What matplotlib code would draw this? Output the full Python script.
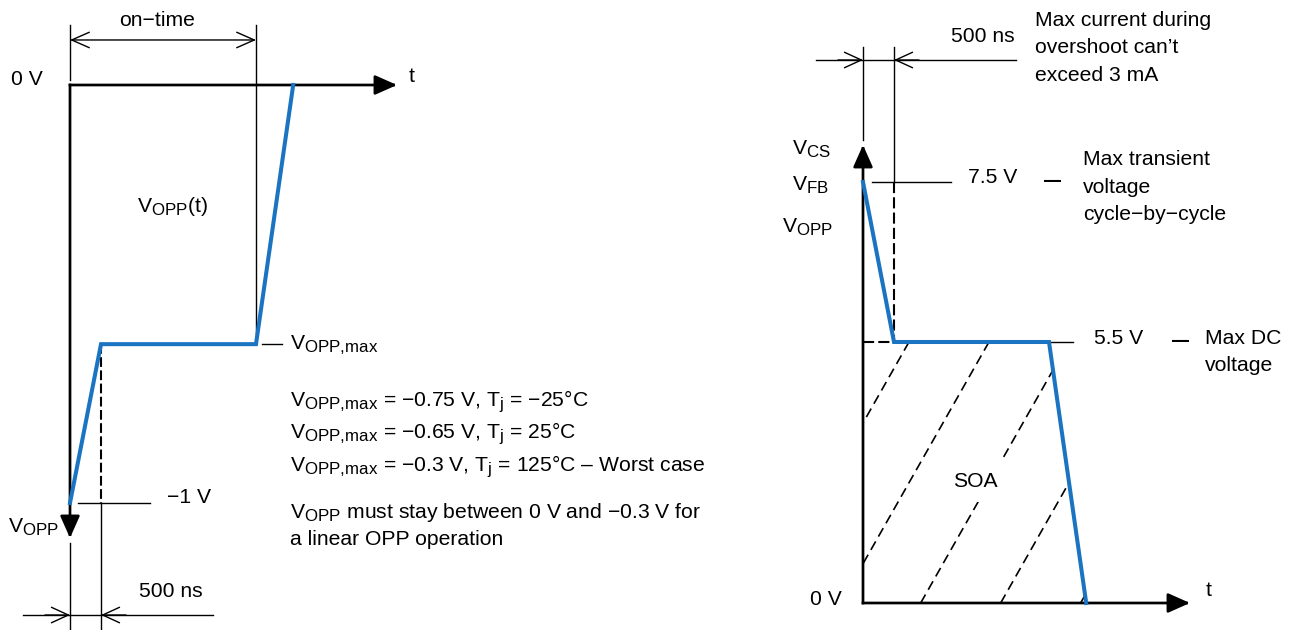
import numpy as np
import matplotlib
matplotlib.use("Agg")
import matplotlib.pyplot as plt
import matplotlib._mathtext as mathtext_mod
from matplotlib.patches import Polygon

plt.rcParams['font.family'] = 'Liberation Sans'
plt.rcParams['mathtext.fontset'] = 'custom'
plt.rcParams['mathtext.rm'] = 'Liberation Sans'
plt.rcParams['mathtext.it'] = 'Liberation Sans:italic'
plt.rcParams['mathtext.bf'] = 'Liberation Sans:bold'
plt.rcParams['lines.scale_dashes'] = False
mathtext_mod.SHRINK_FACTOR = 0.8   # subscripts in the sketch are fairly large

# --- left sketch: V_OPP going negative (time in ns, level in V) ---
opp_t = [0, 500, 3000, 3600]
opp_v = [-1.0, -0.62, -0.62, 0.0]
on_time = 3000
settle = 500
vmax_cases = ['−0.75', '−0.65', '−0.3']
tj_cases = ['−25', '25', '125']

# --- right sketch: SOA of the CS / FB / OPP pins ---
soa_t = [0, 500, 3000, 3600]
soa_v = [7.5, 5.5, 5.5, 0.0]
v_dc = 5.5
v_tr = 7.5

blue = '#1a74c2'
fs = 15.2
k = 31 / 500.0   # px per ns

fig = plt.figure(figsize=(12.89, 6.30), dpi=100)

axl = fig.add_axes([0, 0, 1, 1], label='left')
axl.set_xlim(-70 / k, (1289 - 70) / k)
axl.set_ylim((85 - 630) / 418.0, 85 / 418.0)
axl.axis('off')

# sketch is not to scale: 5.5 V and 7.5 V sit on hand-placed levels
v_knots = np.array([-50, 0, 5.5, 7.5, 50])
p_knots = np.array([-50 * 47.45, 0, 261, 421, 421 + 42.5 * 80])
fwd = lambda v: np.interp(v, v_knots, p_knots)
inv = lambda p: np.interp(p, p_knots, v_knots)

axr = fig.add_axes([0, 0, 1, 1], label='right')
axr.set_yscale('function', functions=(fwd, inv))
axr.set_xlim(-863 / k, (1289 - 863) / k)
axr.set_ylim(inv(-27), inv(603))
axr.axis('off')


def arrow(ax, tip, tail, style, lw):
    ax.annotate('', xy=tip, xytext=tail,
                arrowprops=dict(arrowstyle=style, lw=lw, color='black',
                                shrinkA=0, shrinkB=0, mutation_scale=1,
                                capstyle='projecting'))


def txt(ax, x, y, s, ha='left', size=fs, **kw):
    ax.text(x, y, s, ha=ha, va='baseline', fontsize=size, color='black', **kw)


filled = '-|>,head_length=13.5,head_width=6'
opened = '->,head_length=12,head_width=5.5'
both = '<->,head_length=12.5,head_width=5.5'
sub_max = r'$_{\mathrm{OPP{,}max}}$'

# ================= left =================
arrow(axl, (5274, 0), (0, 0), filled, 1.95)
arrow(axl, (0, -1.0837), (0, 0), filled, 1.95)
axl.plot(opp_t, opp_v, color=blue, lw=2.9, zorder=5, solid_joinstyle='miter')

# on-time dimension
axl.plot([0, 0], [0.1435, 0.012], color='black', lw=1.0)
axl.plot([on_time, on_time], [0.1435, opp_v[2]], color='black', lw=1.0)
arrow(axl, (on_time, 0.1077), (0, 0.1077), both, 1.0)
txt(axl, on_time / 2 - 97, 0.1411, 'on−time', ha='center')

# 500 ns at the bottom
axl.plot([settle, settle], [opp_v[1], opp_v[0]], color='black', lw=1.5,
         ls=(0, (7, 2.5)))
axl.plot([settle, settle], [opp_v[0], -1.31], color='black', lw=1.0)
axl.plot([0, 0], [-1.0957, -1.31], color='black', lw=1.0)
axl.plot([-758, 2300], [-1.268, -1.268], color='black', lw=1.0)
arrow(axl, (0, -1.268), (-400, -1.268), opened, 1.0)
arrow(axl, (settle, -1.268), (900, -1.268), opened, 1.0)
txt(axl, 1113, -1.2249, '500 ns')

# -1 V level
axl.plot([129, 1290], [opp_v[0], opp_v[0]], color='black', lw=1.0)
txt(axl, 1565, -1.0, '−1 V')

txt(axl, -435, 0.0, '0 V', ha='right')
txt(axl, 5468, 0.0072, 't')
txt(axl, -1000, -1.0718, r'V$_{\mathrm{OPP}}$')
txt(axl, 1080, -0.304, r'V$_{\mathrm{OPP}}$(t)')

axl.plot([3097, 3419], [opp_v[2], opp_v[2]], color='black', lw=1.0)
txt(axl, 3548, -0.6316, 'V' + sub_max)

block_v = [-0.7703, -0.8469, -0.9258]
for i in range(3):
    s = 'V' + sub_max + ' = ' + vmax_cases[i] + r' V, T$_{\mathrm{j}}$ = ' + tj_cases[i] + '°C'
    if i == 2:
        s += ' – Worst case'
    txt(axl, 3548, block_v[i], s)
txt(axl, 3548, -1.0359, r'V$_{\mathrm{OPP}}$ must stay between 0 V and −0.3 V for')
txt(axl, 3548, -1.1005, 'a linear OPP operation')

# ================= right =================
arrow(axr, (5274, 0), (0, 0), filled, 1.95)
arrow(axr, (0, 7.9625), (0, 0), filled, 1.95)
axr.plot(soa_t, soa_v, color=blue, lw=2.9, zorder=5, solid_joinstyle='miter')

# SOA hatch, clipped to the area under the curve
soa_area = Polygon(np.column_stack([[0, 0, soa_t[2], soa_t[3]],
                                    [0, v_dc, soa_v[2], soa_v[3]]]),
                   closed=True, fill=False, edgecolor='none')
axr.add_patch(soa_area)
slope = 1.76 * k / 47.45
for t0 in [-1650, -360, 930, 2220, 3510]:
    ln, = axr.plot([t0, t0 + v_dc / slope], [0, v_dc], color='black', lw=1.2,
                   ls=(0, (7, 4)), zorder=2)
    ln.set_clip_path(soa_area)
axr.text(1806, 2.445, 'SOA', ha='center', va='baseline', fontsize=fs, zorder=3,
         bbox=dict(facecolor='white', edgecolor='none', pad=8))

# levels
axr.plot([0, soa_t[1]], [v_dc, v_dc], color='black', lw=1.5, ls=(0, (8, 3)))
axr.plot([soa_t[2], 3387], [v_dc, v_dc], color='black', lw=1.0)
axr.plot([145, 1419], [v_tr, v_tr], color='black', lw=1.0)
axr.plot([soa_t[1], soa_t[1]], [v_tr, v_dc], color='black', lw=1.5, ls=(0, (8, 3)))
txt(axr, 3726, 5.458, '5.5 V')
txt(axr, 1694, 7.4875, '7.5 V')
txt(axr, 5121, 5.36, '–', ha='center', size=22)
txt(axr, 3065, 7.416, '–', ha='center', size=22)

for s, v in zip(['Max DC', 'voltage'], [5.458, 4.889]):
    txt(axr, 5516, v, s)
for s, v in zip(['Max transient', 'voltage', 'cycle−by−cycle'], [7.7125, 7.3625, 7.025]):
    txt(axr, 3548, v, s)

# 500 ns dimension on top
axr.plot([0, 0], [9.1875, 8.025], color='black', lw=1.0)
axr.plot([soa_t[1], soa_t[1]], [9.1875, v_tr], color='black', lw=1.0)
axr.plot([-758, 2468], [9.025, 9.025], color='black', lw=1.0)
arrow(axr, (0, 9.025), (-400, 9.025), opened, 1.0)
arrow(axr, (soa_t[1], 9.025), (900, 9.025), opened, 1.0)
txt(axr, 2452, 9.25, '500 ns', ha='right')
for s, v in zip(['Max current during', 'overshoot can’t', 'exceed 3 mA'], [9.45, 9.1125, 8.7625]):
    txt(axr, 2774, v, s)

txt(axr, -339, -0.042, '0 V', ha='right')
txt(axr, 5532, 0.1475, 't')
txt(axr, -1145, 7.8375, r'V$_{\mathrm{CS}}$')
txt(axr, -1145, 7.3875, r'V$_{\mathrm{FB}}$')
txt(axr, -1306, 6.8625, r'V$_{\mathrm{OPP}}$')

fig.savefig('out.png', dpi=100)
